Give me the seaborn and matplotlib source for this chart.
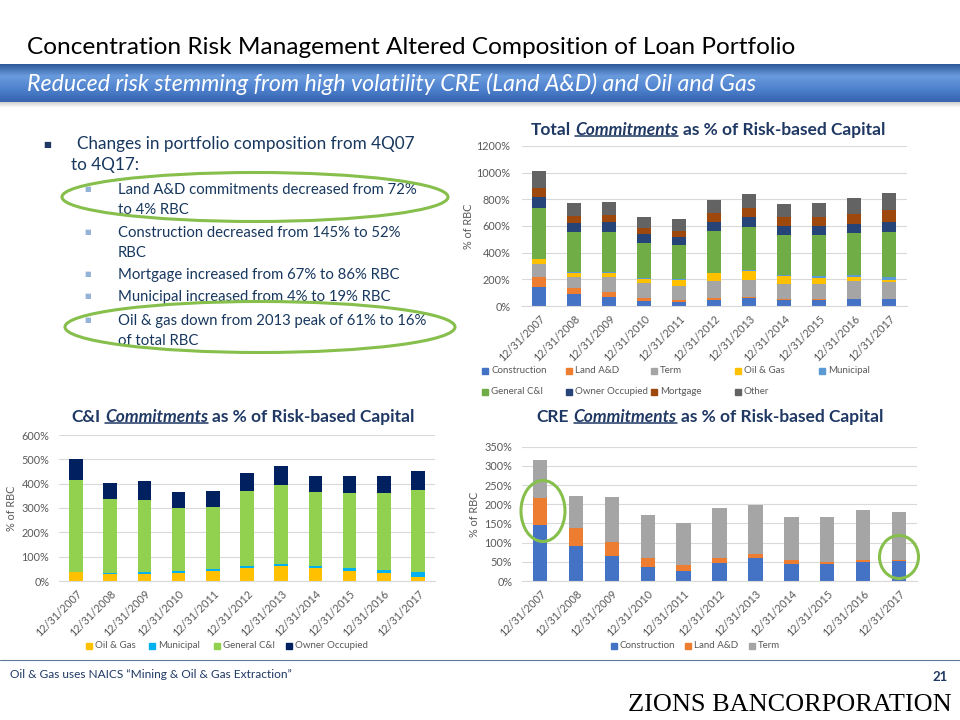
import numpy as np
import seaborn as sns
import matplotlib.pyplot as plt
from matplotlib.patches import Ellipse, Rectangle
from matplotlib.lines import Line2D
from matplotlib.colors import LinearSegmentedColormap

W, H = 960, 720

YEARS = ["12/31/2007", "12/31/2008", "12/31/2009", "12/31/2010", "12/31/2011", "12/31/2012",
         "12/31/2013", "12/31/2014", "12/31/2015", "12/31/2016", "12/31/2017"]

# % of risk-based capital
construction = [145, 90, 66, 37, 27, 46, 60, 45, 44, 50, 52]
land_ad = [72, 47, 36, 24, 16, 14, 10, 10, 6, 5, 4]
term = [98, 84, 117, 111, 109, 129, 128, 113, 118, 129, 124]
oil_gas = [35, 27, 30, 33, 41, 55, 61, 55, 41, 32, 16]
municipal = [4, 5, 6, 7, 7, 7, 9, 8, 14, 13, 19]
general_ci = [378, 305, 297, 260, 255, 309, 326, 301, 307, 315, 341]
owner_occ = [83, 66, 78, 67, 65, 71, 77, 69, 71, 73, 76]
mortgage = [67, 50, 51, 45, 46, 63, 62, 65, 65, 72, 86]
other = [134, 97, 100, 87, 85, 102, 110, 102, 110, 119, 132]

TOTAL_LABELS = ["Construction", "Land A&D", "Term", "Oil & Gas", "Municipal",
                "General C&I", "Owner Occupied", "Mortgage", "Other"]
TOTAL_COLORS = ["#4472C4", "#ED7D31", "#A5A5A5", "#FFC000", "#5B9BD5",
                "#70AD47", "#264478", "#9E480E", "#636363"]
CI_LABELS = ["Oil & Gas", "Municipal", "General C&I", "Owner Occupied"]
CI_COLORS = ["#FFC000", "#00B0F0", "#92D050", "#002060"]
CRE_LABELS = ["Construction", "Land A&D", "Term"]
CRE_COLORS = ["#4472C4", "#ED7D31", "#A5A5A5"]

NAVY = "#1F3864"
TXT = "#17375E"
GREY = "#595959"
GREEN = "#86BF4B"

sns.set_style("white")
plt.rcParams["font.family"] = ["Lato", "DejaVu Sans"]


def rect(left, top, right, bottom):
    return [left / W, 1 - bottom / H, (right - left) / W, (bottom - top) / H]


def fx(x):
    return x / W


def fy(y):
    return 1 - y / H


def stacked(ax, layers, colors):
    cum = np.cumsum(np.array(layers, dtype=float), axis=0)
    for vals, c in reversed(list(zip(cum, colors))):
        sns.barplot(x=YEARS, y=vals, color=c, width=0.4, saturation=1,
                    errorbar=None, linewidth=0, ax=ax)


def style_axes(ax, top, step, pad, label_off):
    ax.set_ylim(0, top)
    ax.set_yticks(np.arange(0, top + 1, step))
    ax.set_yticklabels([f"{v:.0f}%" for v in np.arange(0, top + 1, step)])
    ax.set_xlim(-0.5, len(YEARS) - 0.5)
    ax.set_xticks(range(len(YEARS)))
    ax.set_xticklabels(YEARS, rotation=45, ha="right", rotation_mode="anchor")
    ax.set_xticks(np.arange(-0.5, len(YEARS)), minor=True)
    ax.tick_params(axis="x", which="major", length=0, pad=5, labelsize=7.8, labelcolor=GREY)
    ax.tick_params(axis="x", which="minor", length=4, color="#D9D9D9", width=0.8)
    ax.tick_params(axis="y", length=0, pad=pad, labelsize=7.8, labelcolor=GREY)
    ax.set_axisbelow(True)
    ax.yaxis.grid(True, color="#D9D9D9", lw=0.8)
    ax.xaxis.grid(False)
    for s in ["top", "right", "left"]:
        ax.spines[s].set_visible(False)
    ax.spines["bottom"].set_color("#D9D9D9")
    ax.set_xlabel("")
    ax.set_ylabel("% of RBC", fontsize=7.8, color=GREY)
    ax.yaxis.set_label_coords(label_off, 0.5)


def legend_item(fig, x, y, color, label):
    fig.add_artist(Rectangle((fx(x - 3), fy(y + 3)), 6 / W, 6 / H, color=color,
                             transform=fig.transFigure))
    fig.text(fx(x + 6), fy(y), label, fontsize=7.0, color=GREY, va="center", ha="left")


def rich_title(fig, xc, y, first, word, rest, size=12.5):
    r = fig.canvas.get_renderer()
    kw = dict(fontsize=size, fontweight="bold", color=NAVY, va="center", ha="left")
    probe1 = fig.text(0, 0, "x x", **kw)
    probe2 = fig.text(0, 0, "xx", **kw)
    sp = probe1.get_window_extent(r).width - probe2.get_window_extent(r).width
    probe1.remove()
    probe2.remove()
    t1 = fig.text(0, fy(y), first, **kw)
    t2 = fig.text(0, fy(y), word, fontstyle="italic", **kw)
    t3 = fig.text(0, fy(y), rest, **kw)
    ws = [t.get_window_extent(r).width for t in (t1, t2, t3)]
    x0 = xc - (sum(ws) + 2 * sp) / 2
    t1.set_x(fx(x0))
    x1 = x0 + ws[0] + sp
    t2.set_x(fx(x1))
    t3.set_x(fx(x1 + ws[1] + sp))
    bb = t2.get_window_extent(r)
    uy = bb.y0 + 2
    fig.add_artist(Line2D([x1 / W, (x1 + ws[1]) / W], [uy / H, uy / H], color=NAVY, lw=1.1,
                          transform=fig.transFigure))


fig = plt.figure(figsize=(9.6, 7.2), dpi=100)

# header
fig.text(fx(27), fy(47), "Concentration Risk Management Altered Composition of Loan Portfolio",
         fontsize=17.6, color="black", va="center", ha="left")
shadow = fig.add_axes(rect(0, 100, 960, 108))
shadow.imshow(np.linspace(0, 1, 20).reshape(-1, 1), aspect="auto",
              cmap=LinearSegmentedColormap.from_list("s", ["#BFBFBF", "#FFFFFF"]))
shadow.axis("off")
band = fig.add_axes(rect(0, 64, 960, 102))
band.imshow(np.linspace(0, 1, 50).reshape(-1, 1), aspect="auto",
            cmap=LinearSegmentedColormap.from_list("b", ["#2A5597", "#6A9BDE", "#4E81CE", "#3664AF"]))
band.axis("off")
fig.text(fx(27), fy(84), "Reduced risk stemming from high volatility CRE (Land A&D) and Oil and Gas",
         fontsize=16.7, fontstyle="italic", color="white", va="center", ha="left")

# bullet text
fig.text(fx(43), fy(144), "■", family="DejaVu Sans", fontsize=6, color=NAVY, va="center")
fig.text(fx(77), fy(144), "Changes in portfolio composition from 4Q07", fontsize=12.3, color=TXT, va="center")
fig.text(fx(71), fy(165), "to 4Q17:", fontsize=12.3, color=TXT, va="center")
sub_lines = [(190, "Land A&D commitments decreased from 72%", True), (210, "to 4% RBC", False),
             (233, "Construction decreased from 145% to 52%", True), (253, "RBC", False),
             (275, "Mortgage increased from 67% to 86% RBC", True),
             (297, "Municipal increased from 4% to 19% RBC", True),
             (321, "Oil & gas down from 2013 peak of 61% to 16%", True), (341, "of total RBC", False)]
for y, s, mark in sub_lines:
    if mark:
        fig.text(fx(84), fy(y - 1), "■", family="DejaVu Sans", fontsize=5, color="#95B3D7", va="center")
    fig.text(fx(118), fy(y), s, fontsize=10.7, color=TXT, va="center")
for cx, cy, w, h in [(255, 197, 386, 49), (260, 327, 390, 51)]:
    fig.add_artist(Ellipse((fx(cx), fy(cy)), w / W, h / H, fill=False, ec=GREEN, lw=2.2,
                           transform=fig.transFigure, zorder=5))

# total commitments
ax1 = fig.add_axes(rect(521.5, 146, 906.5, 306))
stacked(ax1, [construction, land_ad, term, oil_gas, municipal, general_ci, owner_occ, mortgage, other],
        TOTAL_COLORS)
style_axes(ax1, 1200, 200, 8, -(521.5 - 474) / 385)
rich_title(fig, 708, 130, "Total", "Commitments", "as % of Risk-based Capital")
cols = [485, 569, 654, 738, 822]
for i, (lab, c) in enumerate(zip(TOTAL_LABELS, TOTAL_COLORS)):
    legend_item(fig, cols[i % 5], 371 if i < 5 else 392, c, lab)

# C&I commitments
ax2 = fig.add_axes(rect(59, 435, 435, 581))
stacked(ax2, [oil_gas, municipal, general_ci, owner_occ], CI_COLORS)
style_axes(ax2, 600, 100, 7, -(59 - 17) / 376)
rich_title(fig, 243, 417, "C&I", "Commitments", "as % of Risk-based Capital")
for x, lab, c in zip([89, 152, 217, 289], CI_LABELS, CI_COLORS):
    legend_item(fig, x, 646, c, lab)

# CRE commitments
ax3 = fig.add_axes(rect(522, 446.7, 917, 581))
stacked(ax3, [construction, land_ad, term], CRE_COLORS)
style_axes(ax3, 350, 50, 7, -(522 - 480) / 395)
rich_title(fig, 710, 417, "CRE", "Commitments", "as % of Risk-based Capital")
for x, lab, c in zip([614, 688, 752], CRE_LABELS, CRE_COLORS):
    legend_item(fig, x, 646, c, lab)
for cx, cy, w, h in [(543, 511, 44, 61), (899, 557, 39, 43)]:
    fig.add_artist(Ellipse((fx(cx), fy(cy)), w / W, h / H, fill=False, ec=GREEN, lw=2.2,
                           transform=fig.transFigure, zorder=5))

# footer
fig.add_artist(Line2D([0, 1], [fy(660), fy(660)], color="#5D7A99", lw=0.8, transform=fig.transFigure))
fig.text(fx(10), fy(675), "Oil & Gas uses NAICS \u201cMining & Oil & Gas Extraction\u201d",
         fontsize=8.6, color=NAVY, va="center", ha="left")
fig.text(fx(948), fy(677), "21", fontsize=9.5, fontweight="bold", color=NAVY, va="center", ha="right")
fig.text(fx(952), fy(705), "ZIONS BANCORPORATION", family="Liberation Serif", fontsize=18.9,
         color="black", va="center", ha="right")

fig.savefig("out.png", dpi=100)
